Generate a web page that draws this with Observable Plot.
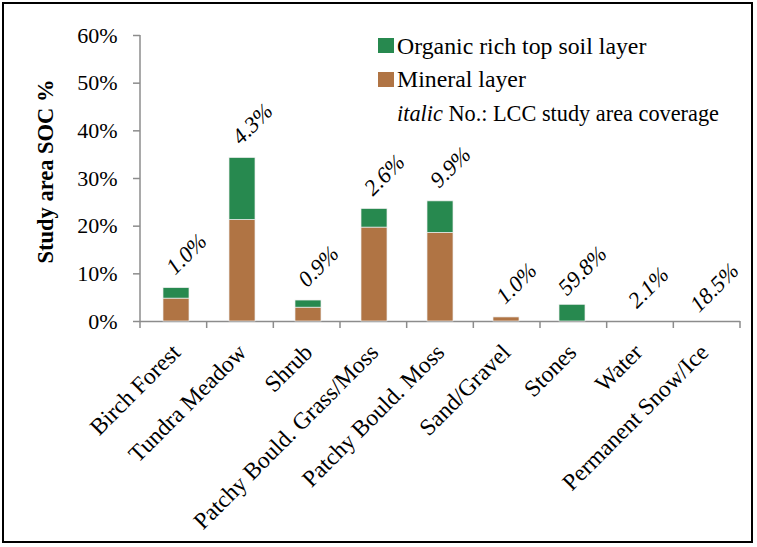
<!DOCTYPE html>
<html>
<head>
<meta charset="utf-8">
<script src="https://cdn.jsdelivr.net/npm/d3@7"></script>
<script src="https://cdn.jsdelivr.net/npm/@observablehq/plot@0.6"></script>
<style>
  html, body { margin: 0; padding: 0; background: #fff; }
  #wrap { position: relative; width: 757px; height: 547px; font-family: "Liberation Serif", "Times New Roman", serif; color: #000; }
  #border { position: absolute; left: 2px; top: 2px; width: 747px; height: 537px; border: 2px solid #000; pointer-events: none; }
  #chart { position: absolute; left: 0; top: 0; }
  .leg { position: absolute; left: 397px; font-size: 23.8px; line-height: 33px; white-space: nowrap; }
  .leg.note { font-size: 22.3px; }
  .sw { position: absolute; left: 378px; width: 16px; height: 15px; }
</style>
</head>
<body>
<div id="wrap">
  <div id="chart"></div>
  <div id="legend"></div>
  <div id="border"></div>
</div>
<script>
// ---- data ----
const categories = ["Birch Forest", "Tundra Meadow", "Shrub", "Patchy Bould. Grass/Moss", "Patchy Bould. Moss", "Sand/Gravel", "Stones", "Water", "Permanent Snow/Ice"];
const mineral = [4.8, 21.3, 2.9, 19.7, 18.6, 0.85, 0, 0, 0];
const organic = [2.2, 13.0, 1.5, 3.9, 6.6, 0, 3.5, 0, 0];
const coverage = ["1.0%", "4.3%", "0.9%", "2.6%", "9.9%", "1.0%", "59.8%", "2.1%", "18.5%"];
const layers = ["Mineral layer", "Organic rich top soil layer"];
const layerColors = ["#b07444", "#27894f"];
const yTicks = [0, 10, 20, 30, 40, 50, 60];
const yTitle = "Study area SOC %";
const legendNote = ["italic", " No.: LCC study area coverage"];

// table built from the arrays
const rows = categories.flatMap((c, i) => [
  {category: c, layer: layers[0], value: mineral[i]},
  {category: c, layer: layers[1], value: organic[i]}
]);
const totals = categories.map((c, i) => mineral[i] + organic[i]);

const gray = "#8c8c8c";

function frameTicks(index, scales, values, dimensions) {
  const {width, height, marginLeft, marginRight, marginTop, marginBottom} = dimensions;
  const n = categories.length;
  const step = (width - marginLeft - marginRight) / n;
  const y0 = height - marginBottom;
  const g = d3.create("svg:g").attr("stroke", gray).attr("stroke-width", 1.5);
  g.append("line").attr("x1", marginLeft).attr("x2", marginLeft).attr("y1", marginTop).attr("y2", y0);
  for (let i = 0; i <= n; i++) {
    const x = marginLeft + i * step;
    g.append("line").attr("x1", x).attr("x2", x).attr("y1", y0).attr("y2", y0 + 7);
  }
  return g.node();
}

const chart = Plot.plot({
  width: 757,
  height: 547,
  marginLeft: 140,
  marginRight: 17,
  marginTop: 35,
  marginBottom: 226,
  style: {fontFamily: "'Liberation Serif', 'Times New Roman', serif", fontSize: "22px", color: "#000", background: "transparent", overflow: "visible"},
  x: {domain: categories, paddingInner: 0.61, paddingOuter: 0.305, label: null},
  y: {domain: [0, 60], label: null},
  color: {domain: layers, range: layerColors},
  marks: [
    Plot.ruleY([0], {stroke: gray, strokeWidth: 1.5}),
    frameTicks,
    Plot.barY(rows, {x: "category", y: "value", fill: "layer", stroke: "#eeeeee", strokeWidth: 0.7}),
    Plot.axisY({ticks: yTicks, tickFormat: d => d + "%", tickSize: 7, tickPadding: 16, stroke: gray, strokeWidth: 1.5, fill: "#000", fontSize: 22, label: null}),
    Plot.axisX({tickRotate: -45, tickSize: 0, tickPadding: 27, textAnchor: "end", lineAnchor: "middle", fill: "#000", fontSize: 23.5, label: null}),
    Plot.text(categories, {x: d => d, y: (d, i) => totals[i], text: (d, i) => coverage[i], rotate: -45, textAnchor: "middle", lineAnchor: "middle", fontStyle: "italic", fontSize: 22.5, dx: 10, dy: -34, fill: "#000"}),
    Plot.text([yTitle], {frameAnchor: "left", text: d => d, rotate: -90, textAnchor: "middle", lineAnchor: "middle", dx: -95, dy: -7, fontWeight: "bold", fontSize: 22.5, fill: "#000"})
  ]
});
document.getElementById("chart").appendChild(chart);

// legend (inside plot area, top right)
const legend = document.getElementById("legend");
const legendItems = [layers[1], layers[0]];
const legendColors = [layerColors[1], layerColors[0]];
legendItems.forEach((name, i) => {
  const sw = document.createElement("div");
  sw.className = "sw";
  sw.style.top = (38 + i * 33.5) + "px";
  sw.style.background = legendColors[i];
  legend.appendChild(sw);
  const t = document.createElement("div");
  t.className = "leg";
  t.style.top = (30 + i * 33) + "px";
  t.textContent = name;
  legend.appendChild(t);
});
const note = document.createElement("div");
note.className = "leg note";
note.style.top = "97px";
const it = document.createElement("i");
it.textContent = legendNote[0];
note.appendChild(it);
note.appendChild(document.createTextNode(legendNote[1]));
legend.appendChild(note);
</script>
</body>
</html>
